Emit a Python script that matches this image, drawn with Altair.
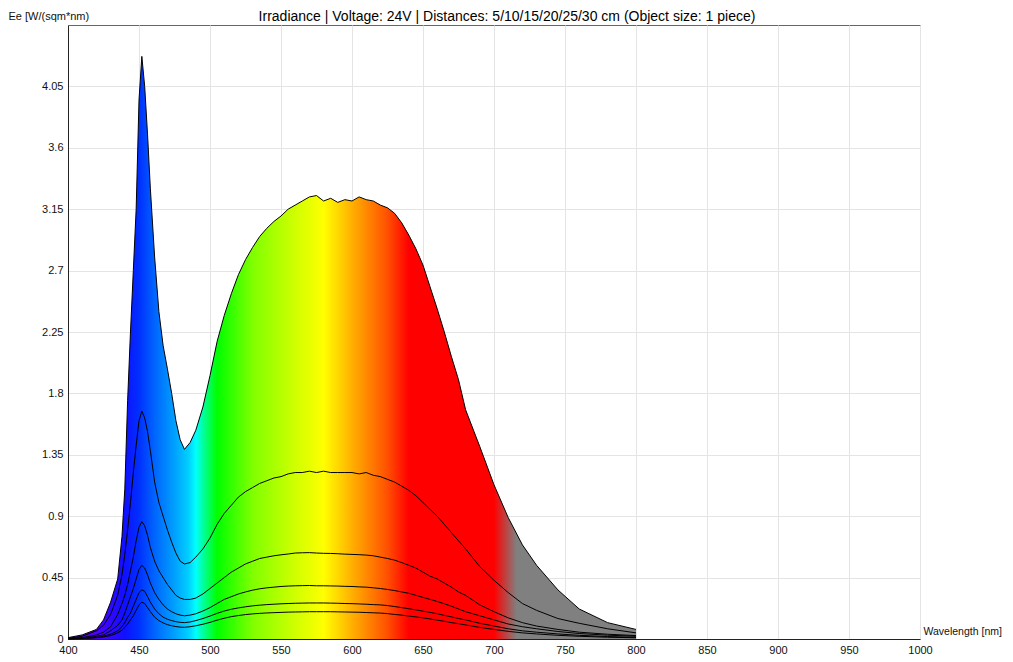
import altair as alt
import pandas as pd

wavelengths = [400, 410, 420, 425, 430, 435, 438, 440, 442, 444, 446, 448, 450, 452, 454, 456, 458, 461, 464, 467,
               470, 473, 476, 479, 482, 486, 490, 495, 500, 505, 510, 515, 520, 525, 530, 535, 540, 545, 550, 555,
               560, 565, 570, 575, 580, 585, 590, 595, 600, 605, 610, 615, 620, 625, 630, 635, 640, 645, 650, 655,
               660, 665, 670, 675, 680, 690, 700, 710, 720, 730, 745, 760, 780, 800]

d5 = [0.01, 0.03, 0.07, 0.14, 0.27, 0.44, 0.75, 1.1, 1.75, 2.25, 2.7, 3.15, 3.95, 4.27, 4.05, 3.7, 3.3, 2.8, 2.4, 2.15,
      1.98, 1.8, 1.6, 1.46, 1.39, 1.44, 1.53, 1.7, 1.93, 2.18, 2.37, 2.53, 2.67, 2.78, 2.87, 2.95, 3.01, 3.06, 3.1, 3.15,
      3.18, 3.21, 3.24, 3.25, 3.21, 3.23, 3.2, 3.22, 3.21, 3.24, 3.22, 3.21, 3.18, 3.16, 3.12, 3.05, 2.96, 2.86, 2.74, 2.58,
      2.42, 2.25, 2.07, 1.9, 1.68, 1.41, 1.13, 0.89, 0.69, 0.54, 0.36, 0.22, 0.12, 0.07]

d10 = [0.005, 0.02, 0.06, 0.1, 0.18, 0.32, 0.47, 0.62, 0.8, 1.0, 1.22, 1.42, 1.6, 1.67, 1.62, 1.52, 1.38, 1.15, 1.0, 0.9,
       0.8, 0.71, 0.63, 0.57, 0.55, 0.56, 0.6, 0.66, 0.74, 0.84, 0.92, 0.98, 1.04, 1.08, 1.11, 1.14, 1.16, 1.18, 1.19, 1.21,
       1.22, 1.22, 1.23, 1.22, 1.23, 1.22, 1.22, 1.22, 1.22, 1.21, 1.22, 1.2, 1.19, 1.17, 1.15, 1.12, 1.09, 1.05, 1.0, 0.95,
       0.9, 0.84, 0.78, 0.72, 0.66, 0.53, 0.43, 0.34, 0.26, 0.21, 0.15, 0.115, 0.075, 0.045]

d15 = [0.003, 0.01, 0.03, 0.05, 0.09, 0.18, 0.26, 0.32, 0.4, 0.5, 0.6, 0.72, 0.82, 0.86, 0.83, 0.76, 0.67, 0.57, 0.5, 0.45,
       0.4, 0.36, 0.32, 0.3, 0.29, 0.29, 0.3, 0.33, 0.37, 0.41, 0.45, 0.49, 0.52, 0.55, 0.57, 0.59, 0.6, 0.61, 0.617, 0.623,
       0.63, 0.632, 0.633, 0.63, 0.628, 0.627, 0.625, 0.622, 0.62, 0.618, 0.615, 0.61, 0.6, 0.59, 0.578, 0.56, 0.54, 0.52, 0.49, 0.46,
       0.44, 0.41, 0.38, 0.345, 0.32, 0.25, 0.2, 0.155, 0.12, 0.095, 0.07, 0.05, 0.035, 0.025]

d20 = [0.002, 0.006, 0.02, 0.03, 0.06, 0.1, 0.14, 0.19, 0.25, 0.31, 0.37, 0.44, 0.51, 0.54, 0.52, 0.47, 0.41, 0.34, 0.29, 0.25,
       0.22, 0.2, 0.185, 0.175, 0.17, 0.175, 0.185, 0.205, 0.23, 0.26, 0.29, 0.31, 0.33, 0.345, 0.358, 0.368, 0.375, 0.38, 0.385, 0.388,
       0.39, 0.391, 0.392, 0.39, 0.39, 0.389, 0.388, 0.386, 0.385, 0.382, 0.38, 0.375, 0.37, 0.363, 0.355, 0.345, 0.335, 0.32, 0.305, 0.29,
       0.275, 0.258, 0.24, 0.22, 0.2, 0.17, 0.14, 0.11, 0.09, 0.075, 0.055, 0.04, 0.028, 0.02]

d25 = [0.001, 0.004, 0.012, 0.02, 0.035, 0.06, 0.09, 0.12, 0.16, 0.19, 0.24, 0.29, 0.34, 0.36, 0.35, 0.31, 0.27, 0.22, 0.185, 0.16,
       0.145, 0.135, 0.127, 0.122, 0.12, 0.125, 0.135, 0.15, 0.168, 0.188, 0.205, 0.218, 0.228, 0.236, 0.243, 0.248, 0.252, 0.255, 0.258, 0.26,
       0.262, 0.263, 0.264, 0.264, 0.264, 0.263, 0.262, 0.26, 0.259, 0.257, 0.255, 0.252, 0.25, 0.245, 0.238, 0.23, 0.222, 0.213, 0.204, 0.195,
       0.185, 0.173, 0.162, 0.15, 0.14, 0.115, 0.095, 0.075, 0.06, 0.05, 0.037, 0.027, 0.018, 0.012]

d30 = [0.001, 0.003, 0.009, 0.015, 0.025, 0.045, 0.065, 0.085, 0.11, 0.14, 0.17, 0.21, 0.25, 0.27, 0.26, 0.23, 0.2, 0.16, 0.135, 0.118,
       0.105, 0.097, 0.091, 0.087, 0.086, 0.09, 0.097, 0.108, 0.122, 0.138, 0.152, 0.164, 0.172, 0.179, 0.184, 0.188, 0.191, 0.193, 0.195, 0.197,
       0.198, 0.199, 0.2, 0.2, 0.2, 0.2, 0.199, 0.198, 0.197, 0.196, 0.194, 0.192, 0.19, 0.186, 0.18, 0.175, 0.168, 0.162, 0.155, 0.147,
       0.138, 0.13, 0.12, 0.112, 0.103, 0.085, 0.07, 0.056, 0.045, 0.037, 0.027, 0.02, 0.013, 0.009]

distances = ["5 cm", "10 cm", "15 cm", "20 cm", "25 cm", "30 cm"]
series = [d5, d10, d15, d20, d25, d30]

x_ticks = [400, 450, 500, 550, 600, 650, 700, 750, 800, 850, 900, 950, 1000]
y_ticks = [0, 0.45, 0.9, 1.35, 1.8, 2.25, 2.7, 3.15, 3.6, 4.05]

# spectral colour stops (wavelength, colour) for the fill of the 5 cm curve
stop_wl = [400, 420, 440, 450, 460, 475, 485, 490, 495, 505, 530, 560, 580, 600, 625, 640, 700, 716, 800]
stop_col = ["#7000ff", "#5000ff", "#1010ff", "#0030ff", "#0060ff", "#00a0ff", "#00d0ff", "#00ffff", "#00ffa0",
            "#00ff00", "#80ff00", "#d0ff00", "#ffff00", "#ffb000", "#ff5000", "#ff0000", "#ff0000", "#808080", "#808080"]

rows = []
for name, vals in zip(distances, series):
    for w, v in zip(wavelengths, vals):
        rows.append({"wl": w, "ee": v, "dist": name})
df = pd.DataFrame(rows)
df_top = df[df["dist"] == "5 cm"]

wl_min, wl_max = min(wavelengths), max(wavelengths)
gradient = alt.LinearGradient(
    gradient="linear", x1=0, x2=1, y1=0, y2=0,
    stops=[alt.GradientStop(offset=(w - wl_min) / (wl_max - wl_min), color=c) for w, c in zip(stop_wl, stop_col)],
)

x_scale = alt.Scale(domain=[400, 1000], nice=False, zero=False)
y_scale = alt.Scale(domain=[0, 4.5], nice=False, zero=False)

x_enc = alt.X("wl:Q", scale=x_scale,
              axis=alt.Axis(values=x_ticks, title="Wavelength [nm]", titleX=855, titleY=-8,
                            titleAlign="left", titleBaseline="middle", titleAngle=0, format="d",
                            titleFontSize=10.5, labelFlush=False))
y_enc = alt.Y("ee:Q", scale=y_scale,
              axis=alt.Axis(values=y_ticks, title="Ee [W/(sqm*nm)", titleX=-60, titleY=-9,
                            titleAlign="left", titleBaseline="middle", titleAngle=0, format=".4~g",
                            labelFlush=False))

area = alt.Chart(df_top).mark_area(color=gradient, interpolate="linear").encode(x=x_enc, y=y_enc)
lines = alt.Chart(df).mark_line(color="black", strokeWidth=1, interpolate="linear").encode(
    x=alt.X("wl:Q", scale=x_scale), y=alt.Y("ee:Q", scale=y_scale), detail="dist:N"
)

chart = alt.layer(area, lines).properties(
    width=852, height=614,
    title=alt.TitleParams("Irradiance | Voltage: 24V | Distances: 5/10/15/20/25/30 cm (Object size: 1 piece)",
                          font="Liberation Sans", fontSize=14, fontWeight="normal", color="black",
                          anchor="middle", offset=4, dx=13, dy=18),
    autosize=alt.AutoSizeParams(type="none"),
    padding={"left": 60, "top": 17, "right": 85, "bottom": 15},
).configure_axis(
    labelFont="Liberation Sans", labelFontSize=11, labelColor="#111",
    titleFont="Liberation Sans", titleFontSize=11, titleFontWeight="normal", titleColor="#111",
    gridColor="#e4e4e4", gridWidth=1, domainColor="#222", ticks=False, labelPadding=5,
).configure_view(stroke="#666", strokeWidth=1)

chart.save("out.html", embed_options={"renderer": "svg", "actions": False})
